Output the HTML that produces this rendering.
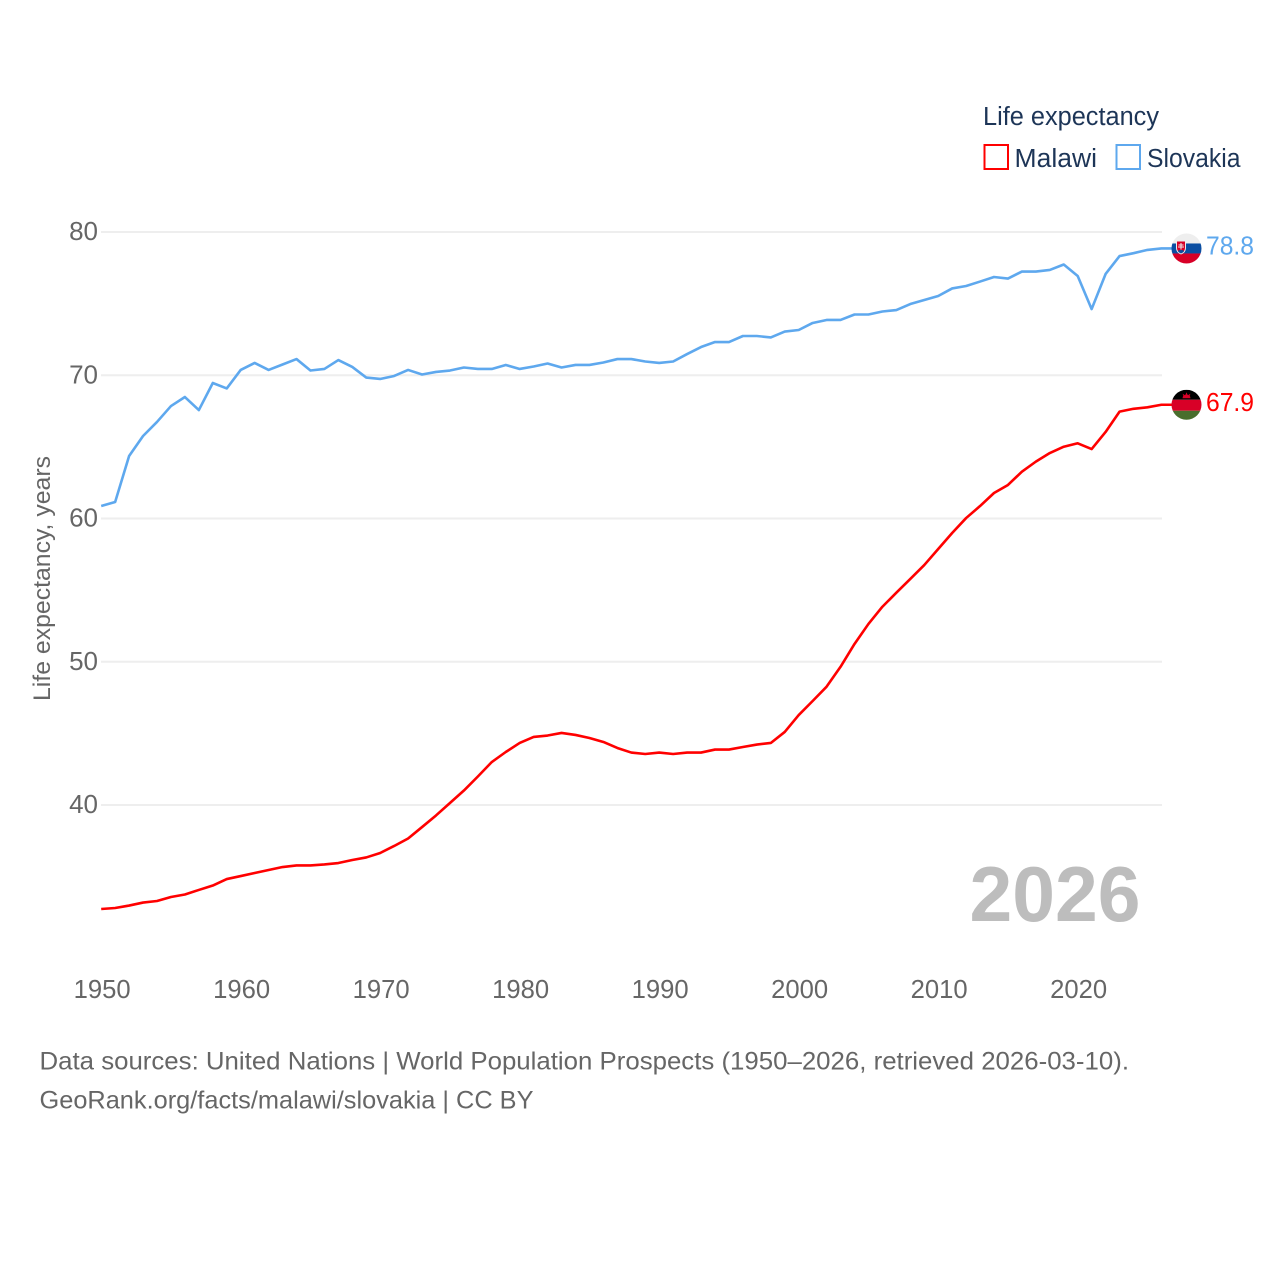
<!DOCTYPE html>
<html lang="en">
<head>
<meta charset="utf-8">
<title>Life expectancy: Malawi vs Slovakia</title>
<style>
  html,body{margin:0;padding:0;background:#fff;}
  svg{display:block;}
  text{font-family:"Liberation Sans",sans-serif;}
</style>
</head>
<body>
<svg id="chart" xmlns="http://www.w3.org/2000/svg" width="1280" height="1280" viewBox="0 0 1280 1280">
  <defs>
    <clipPath id="flag-clip"><circle cx="0" cy="0" r="15"></circle></clipPath>
  </defs>
  <rect x="0" y="0" width="1280" height="1280" fill="#fff"></rect>

  <g id="grid"></g>
  <g id="yticks"></g>
  <g id="xticks"></g>

  <text transform="translate(50,701) rotate(-90)" font-size="24.5" fill="#666" textLength="245" lengthAdjust="spacingAndGlyphs">Life expectancy, years</text>

  <text x="969.5" y="921" font-size="78" font-weight="700" fill="#bdbdbd" textLength="171" lengthAdjust="spacingAndGlyphs">2026</text>

  <g id="series"></g>

  <g id="flag-slovakia">
    <g clip-path="url(#flag-clip)">
      <rect x="-15" y="-15" width="30" height="10" fill="#eeeeee"></rect>
      <rect x="-15" y="-5" width="30" height="10" fill="#0b4ea2"></rect>
      <rect x="-15" y="5" width="30" height="10" fill="#d80027"></rect>
      <path d="M-10.5,-8 h10 v7.5 q0,4.5 -5,6.5 q-5,-2 -5,-6.5 z" fill="#eeeeee"></path>
      <path d="M-9.5,-7 h8 v6.5 q0,3.7 -4,5.4 q-4,-1.7 -4,-5.4 z" fill="#d80027"></path>
      <path d="M-6,-5.5 h1 v1.5 h2 v1 h-2 v1 h2.5 v1 h-2.5 v2 h-1 v-2 h-2.5 v-1 h2.5 v-1 h-2 v-1 h2 z" fill="#eeeeee"></path>
      <path d="M-8.5,3 q1.5,-2.5 3,-1 q1.5,-1.5 3,1 q-1.2,1.2 -3,2 q-1.8,-0.8 -3,-2 z" fill="#0b4ea2"></path>
    </g>
  </g>

  <g id="flag-malawi">
    <g clip-path="url(#flag-clip)">
      <rect x="-15" y="-15" width="30" height="10" fill="#000"></rect>
      <rect x="-15" y="-5" width="30" height="11" fill="#d80027"></rect>
      <rect x="-15" y="6" width="30" height="10" fill="#496e2d"></rect>
      <path d="M-4,-6.5 q0,-3.5 4,-3.8 q4,0.3 4,3.8 z" fill="#d80027"></path>
      <path d="M-1,-10 L0,-12.5 L1,-10 z M-3.5,-9 L-3.7,-11 L-2,-9.8 z M3.5,-9 L3.7,-11 L2,-9.8 z" fill="#d80027"></path>
    </g>
  </g>

  <text id="label-slovakia" x="1206" font-size="26" fill="#5ea8ee" textLength="48" lengthAdjust="spacingAndGlyphs"></text>
  <text id="label-malawi" x="1206" font-size="26" fill="#ff0000" textLength="48" lengthAdjust="spacingAndGlyphs"></text>

  <g>
    <text x="983" y="125" font-size="25.5" fill="#1d3557" textLength="176" lengthAdjust="spacingAndGlyphs">Life expectancy</text>
    <g>
      <rect x="984.5" y="145" width="23.5" height="24" fill="#fff" stroke="#ff0000" stroke-width="2"></rect>
      <text x="1014.5" y="167" font-size="25.5" fill="#1d3557" textLength="82.5" lengthAdjust="spacingAndGlyphs">Malawi</text>
    </g>
    <g>
      <rect x="1116.5" y="145" width="23.5" height="24" fill="#fff" stroke="#5ea8ee" stroke-width="2"></rect>
      <text x="1147" y="167" font-size="25.5" fill="#1d3557" textLength="93.5" lengthAdjust="spacingAndGlyphs">Slovakia</text>
    </g>
  </g>

  <text x="39.5" y="1069.5" font-size="25" fill="#666" textLength="1089.5" lengthAdjust="spacingAndGlyphs">Data sources: United Nations | World Population Prospects (1950–2026, retrieved 2026-03-10).</text>
  <text x="39.5" y="1108.5" font-size="25" fill="#666" textLength="494" lengthAdjust="spacingAndGlyphs">GeoRank.org/facts/malawi/slovakia | CC BY</text>
</svg>

<script>
const startYear = 1950;
const yTickValues = [40, 50, 60, 70, 80];
const xTickValues = [1950, 1960, 1970, 1980, 1990, 2000, 2010, 2020];
const slovakiaValues = [
  60.87, 61.15, 64.36, 65.76, 66.74, 67.85, 68.48, 67.57, 69.46, 69.08,
  70.37, 70.86, 70.37, 70.75, 71.13, 70.33, 70.44, 71.06, 70.58, 69.84,
  69.74, 69.95, 70.37, 70.05, 70.23, 70.33, 70.54, 70.44, 70.44, 70.72,
  70.44, 70.61, 70.82, 70.54, 70.72, 70.72, 70.89, 71.13, 71.13, 70.96,
  70.86, 70.96, 71.48, 71.97, 72.32, 72.32, 72.74, 72.74, 72.64, 73.05,
  73.16, 73.65, 73.86, 73.86, 74.24, 74.24, 74.45, 74.55, 74.97, 75.25,
  75.53, 76.06, 76.23, 76.54, 76.86, 76.75, 77.24, 77.24, 77.35, 77.73,
  76.93, 74.62, 77.07, 78.32, 78.52, 78.75, 78.85
];
const malawiValues = [
  32.74, 32.81, 32.98, 33.19, 33.30, 33.58, 33.75, 34.07, 34.38, 34.83,
  35.04, 35.25, 35.46, 35.67, 35.78, 35.78, 35.85, 35.95, 36.16, 36.34,
  36.65, 37.14, 37.66, 38.46, 39.27, 40.14, 41.01, 41.99, 43.00, 43.70,
  44.33, 44.75, 44.85, 45.03, 44.89, 44.68, 44.40, 43.98, 43.66, 43.56,
  43.66, 43.56, 43.66, 43.66, 43.87, 43.87, 44.05, 44.22, 44.33, 45.10,
  46.28, 47.26, 48.26, 49.65, 51.24, 52.64, 53.84, 54.82, 55.78, 56.75,
  57.87, 58.99, 60.03, 60.87, 61.78, 62.34, 63.27, 63.97, 64.57, 65.01,
  65.25, 64.85, 66.04, 67.46, 67.66, 67.76, 67.94
];
const slovakiaLabel = "78.8";
const malawiLabel = "67.9";

const SVG_NS = "http://www.w3.org/2000/svg";
const xScale = function (year) { return 101.2 + (year - 1950) * 13.95; };
const yScale = function (value) { return 232 + (80 - value) * 14.325; };
const gridLeft = 101;
const gridRight = 1162;
const flagX = 1186.5;

function make(tag, attrs, parent) {
  const el = document.createElementNS(SVG_NS, tag);
  for (const k in attrs) { el.setAttribute(k, attrs[k]); }
  parent.appendChild(el);
  return el;
}

const gridGroup = document.getElementById("grid");
const yTickGroup = document.getElementById("yticks");
yTickValues.forEach(function (v) {
  const y = yScale(v);
  const line = make("line", { x1: gridLeft, x2: gridRight, y1: y, y2: y, stroke: "#eeeeee", "stroke-width": 2 }, gridGroup);
  
  
  const label = make("text", { x: 98, y: y + 8, "text-anchor": "end", "font-size": 26, fill: "#666" }, yTickGroup);
  
  
  label.textContent = String(v);
});

const xTickGroup = document.getElementById("xticks");
xTickValues.forEach(function (yr) {
  const label = make("text", { x: xScale(yr) + 1, y: 998, "text-anchor": "middle", "font-size": 25.5, fill: "#666", textLength: 57, lengthAdjust: "spacingAndGlyphs" }, xTickGroup);
  
  
  label.textContent = String(yr);
});

function linePath(values) {
  let d = "";
  values.forEach(function (v, i) {
    d += (i ? "L" : "M") + xScale(startYear + i).toFixed(2) + "," + yScale(v).toFixed(2);
  });
  d += "L" + flagX + "," + yScale(values[values.length - 1]).toFixed(2);
  return d;
}

const seriesGroup = document.getElementById("series");
const slovakiaLine = make("path", { d: linePath(slovakiaValues), fill: "none", stroke: "#5ea8ee", "stroke-width": 2.6, "stroke-linejoin": "round" }, seriesGroup);


const malawiLine = make("path", { d: linePath(malawiValues), fill: "none", stroke: "#ff0000", "stroke-width": 2.6, "stroke-linejoin": "round" }, seriesGroup);



const slovakiaEndY = yScale(slovakiaValues[slovakiaValues.length - 1]);
const malawiEndY = yScale(malawiValues[malawiValues.length - 1]);
document.getElementById("flag-slovakia").setAttribute("transform", "translate(" + flagX + "," + slovakiaEndY + ")");
document.getElementById("flag-malawi").setAttribute("transform", "translate(" + flagX + "," + malawiEndY + ")");
const slovakiaText = document.getElementById("label-slovakia");
slovakiaText.setAttribute("y", slovakiaEndY + 6);
slovakiaText.textContent = slovakiaLabel;
const malawiText = document.getElementById("label-malawi");
malawiText.setAttribute("y", malawiEndY + 6);
malawiText.textContent = malawiLabel;
</script>
</body>
</html>
